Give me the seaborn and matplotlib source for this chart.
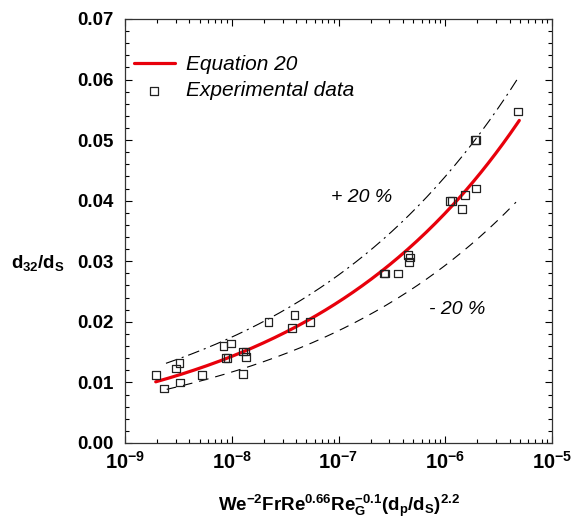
import numpy as np
import pandas as pd
import matplotlib
matplotlib.use("Agg")
import matplotlib.pyplot as plt
from matplotlib.ticker import FixedLocator, MultipleLocator, LogLocator, NullFormatter
import seaborn as sns

# experimental points
exp_x = [1.95e-9, 2.33e-9, 3.01e-9, 3.23e-9, 3.27e-9, 5.26e-9, 8.34e-9, 9.84e-9,
         8.77e-9, 9.16e-9, 1.27e-8, 1.35e-8, 1.36e-8, 1.28e-8, 2.20e-8, 3.86e-8,
         3.69e-8, 5.41e-8, 2.66e-7, 2.72e-7, 3.63e-7, 4.45e-7, 4.68e-7, 4.57e-7,
         1.11e-6, 1.15e-6, 1.43e-6, 1.53e-6, 1.93e-6, 1.91e-6, 1.95e-6, 4.83e-6]
exp_y = [0.0112, 0.0090, 0.0123, 0.0132, 0.0100, 0.0112, 0.0160, 0.0164,
         0.0140, 0.0140, 0.0151, 0.0151, 0.0142, 0.0114, 0.0200, 0.0211,
         0.0190, 0.0200, 0.0280, 0.0280, 0.0280, 0.0310, 0.0306, 0.0299,
         0.0400, 0.0400, 0.0386, 0.0409, 0.0420, 0.0500, 0.0500, 0.0547]

# Equation 20 and the +/-20 % bands, y = a * x**b
eq_a, eq_b, eq_range = 0.710, 0.212, (1.94e-9, 4.94e-6)
up_a, up_b, up_range = 0.701, 0.2004, (2.42e-9, 4.94e-6)
lo_a, lo_b, lo_range = 0.461, 0.1994, (2.46e-9, 4.60e-6)

x_ticks = [1e-9, 1e-8, 1e-7, 1e-6, 1e-5]
x_tick_labels = [r"$\mathrm{10^{-9}}$", r"$\mathrm{10^{-8}}$", r"$\mathrm{10^{-7}}$",
                 r"$\mathrm{10^{-6}}$", r"$\mathrm{10^{-5}}$"]
y_ticks = [0.00, 0.01, 0.02, 0.03, 0.04, 0.05, 0.06, 0.07]


def curve(a, b, rng):
    xs = np.logspace(np.log10(rng[0]), np.log10(rng[1]), 200)
    return pd.DataFrame({"x": xs, "y": a * xs ** b})


sns.set_theme(style="ticks")
plt.rcParams["font.family"] = ["Liberation Sans", "DejaVu Sans"]
plt.rcParams["mathtext.fontset"] = "custom"
plt.rcParams["mathtext.rm"] = "Liberation Sans:bold"
plt.rcParams["mathtext.it"] = "Liberation Sans:bold"
plt.rcParams["mathtext.bf"] = "Liberation Sans:bold"
plt.rcParams["lines.scale_dashes"] = False
plt.rcParams["text.color"] = "black"
plt.rcParams["axes.labelcolor"] = "black"

fig = plt.figure(figsize=(5.75, 5.23), dpi=100)
ax = fig.add_axes([0.2174, 0.153, 0.7426, 0.8107])

eq = curve(eq_a, eq_b, eq_range)
up = curve(up_a, up_b, up_range)
lo = curve(lo_a, lo_b, lo_range)

sns.lineplot(data=up, x="x", y="y", ax=ax, color="black", lw=0.8,
             linestyle=(0, (8.5, 3.5, 1.5, 3.5)), sort=False)
sns.lineplot(data=lo, x="x", y="y", ax=ax, color="black", lw=0.8,
             linestyle=(0, (7, 5)), sort=False)
sns.lineplot(data=eq, x="x", y="y", ax=ax, color="#e8000b", lw=2.3,
             label="Equation 20", sort=False)
sns.scatterplot(x=exp_x, y=exp_y, ax=ax, marker="s", s=30, facecolor="none",
                edgecolor="#222222", linewidth=0.9, label="Experimental data",
                zorder=3)

ax.set_xscale("log")
ax.set_xlim(1e-9, 1e-5)
ax.set_ylim(0, 0.07)
ax.xaxis.set_major_locator(FixedLocator(x_ticks))
ax.set_xticklabels(x_tick_labels)
ax.xaxis.set_minor_locator(LogLocator(base=10, subs=np.arange(2, 10)))
ax.xaxis.set_minor_formatter(NullFormatter())
ax.set_yticks(y_ticks)
ax.set_yticklabels([f"{v:.2f}" for v in y_ticks])
ax.yaxis.set_minor_locator(MultipleLocator(0.002))

ax.tick_params(which="both", direction="in", top=True, right=True,
               colors="black")
ax.tick_params(axis="y", labelsize=13.5, pad=8)
ax.tick_params(axis="x", labelsize=14.5, pad=6)
ax.tick_params(which="major", length=5, width=0.8)
ax.tick_params(which="minor", length=3, width=0.8)
for lab in ax.get_yticklabels():
    lab.set_fontweight("bold")
for sp in ax.spines.values():
    sp.set_linewidth(0.9)
    sp.set_color("#333333")

ax.set_xlabel(r"$\mathrm{We^{-2}FrRe^{0.66}Re_G^{-0.1}(d_p/d_S)^{2.2}}$",
              fontsize=13.5, labelpad=14)
ax.set_ylabel(r"$\mathrm{d_{32}/d_S}$", fontsize=13.5, rotation=0)
ax.yaxis.set_label_coords(-0.204, 0.40)

ax.text(1.66e-7, 0.0406, "+ 20 %", fontsize=14, style="italic",
        ha="center", va="center")
ax.text(1.30e-6, 0.0220, "- 20 %", fontsize=14, style="italic",
        ha="center", va="center")

ax.legend(loc="upper left", bbox_to_anchor=(0.021, 0.915), frameon=False,
          prop={"style": "italic", "size": 15}, borderpad=0, borderaxespad=0,
          handlelength=1.95, handletextpad=0.55, labelspacing=0.35)

fig.savefig("out.png", dpi=100)
